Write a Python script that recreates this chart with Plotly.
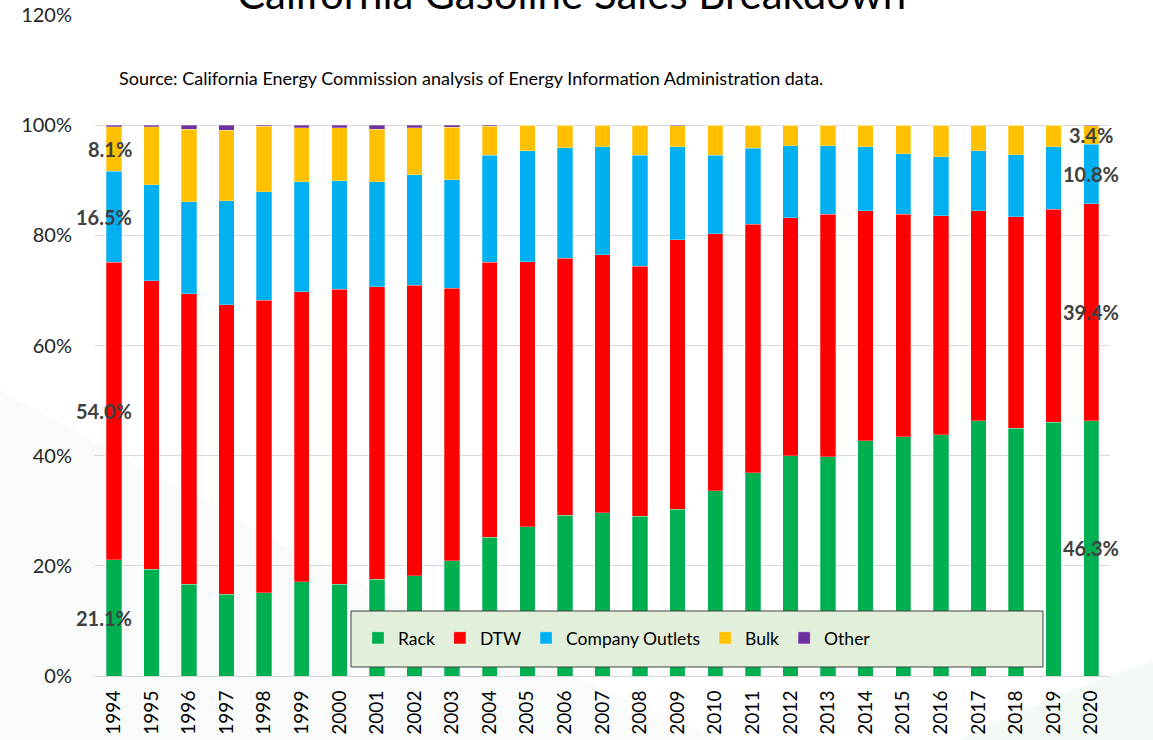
import plotly.graph_objects as go

# California gasoline sales by channel, share of total (%)
years = [str(y) for y in range(1994, 2021)]

rack = [21.1, 19.4, 16.7, 14.8, 15.1, 17.1, 16.7, 17.6, 18.2, 20.9, 25.2, 27.1, 29.2, 29.6,
        29.0, 30.3, 33.6, 36.9, 40.0, 39.8, 42.7, 43.4, 43.8, 46.3, 45.0, 46.1, 46.3]
dtw = [54.0, 52.4, 52.7, 52.6, 53.1, 52.7, 53.5, 53.1, 52.7, 49.5, 49.9, 48.1, 46.6, 46.9,
       45.4, 48.9, 46.7, 45.1, 43.2, 44.0, 41.8, 40.4, 39.8, 38.2, 38.4, 38.6, 39.4]
company_outlets = [16.5, 17.4, 16.7, 18.9, 19.7, 19.9, 19.7, 19.0, 20.1, 19.7, 19.4, 20.2, 20.1, 19.6,
                   20.1, 16.9, 14.2, 13.8, 13.1, 12.5, 11.6, 11.0, 10.7, 10.9, 11.2, 11.4, 10.8]
bulk = [8.1, 10.5, 13.2, 12.8, 11.9, 9.8, 9.6, 9.6, 8.5, 9.5, 5.3, 4.6, 4.1, 3.9,
        5.5, 3.8, 5.5, 4.2, 3.7, 3.7, 3.9, 5.2, 5.7, 4.6, 5.4, 3.9, 3.4]
other = [0.3, 0.3, 0.7, 0.9, 0.2, 0.5, 0.5, 0.7, 0.5, 0.4, 0.2, 0.0, 0.0, 0.0,
         0.0, 0.1, 0.0, 0.0, 0.0, 0.0, 0.0, 0.0, 0.0, 0.0, 0.0, 0.0, 0.1]

series = [
    ("Rack", rack, "#00B050"),
    ("DTW", dtw, "#FF0000"),
    ("Company Outlets", company_outlets, "#00B0F0"),
    ("Bulk", bulk, "#FFC000"),
    ("Other", other, "#7030A0"),
]

y_ticks = [0, 20, 40, 60, 80, 100, 120]
y_tick_text = ["0%", "20%", "40%", "60%", "80%", "100%", "120%"]

FONT = "Lato"

fig = go.Figure()
for name, vals, color in series:
    fig.add_trace(go.Bar(
        x=years, y=vals, name=name,
        marker=dict(color=color, line=dict(color="rgba(255,255,255,0.45)", width=0.6)),
    ))

# Value labels on the first and last year, centred on each segment
# (category axis: positions are given as category indices)
annotations = []
label_series = [rack, dtw, company_outlets, bulk]
for idx, xanchor, xshift in [(0, "right", 20), (len(years) - 1, "center", 0)]:
    base = 0.0
    for vals in label_series:
        v = vals[idx]
        annotations.append(dict(
            x=idx, y=base + v / 2, xref="x", yref="y",
            text=f"{v:.1f}%", showarrow=False, xanchor=xanchor, xshift=xshift,
            font=dict(family=FONT, size=20, color="#404040", weight="bold"),
        ))
        base += v

# Plot area spans x 95..1110 px and y 15..676 px
def px_x(p):
    return (p - 95) / 1015.0

def px_y(p):
    return (676 - p) / 661.0

annotations.append(dict(
    x=px_x(571), y=1, xref="paper", yref="paper", yshift=22, yanchor="middle",
    text="California Gasoline Sales Breakdown", showarrow=False,
    font=dict(family=FONT, size=42, color="#000000"),
))
annotations.append(dict(
    x=px_x(117), y=1, xref="paper", yref="paper", yshift=-63, xanchor="left", yanchor="middle",
    text="Source: California Energy Commission analysis of Energy Information Administration data.",
    showarrow=False, font=dict(family=FONT, size=18, color="#000000"),
))

shapes = [
    # faint background tint in the lower-left and lower-right corners
    dict(type="path", xref="paper", yref="paper", layer="below",
         path=f"M {px_x(0)},{px_y(390)} L {px_x(320)},{px_y(565)} L {px_x(720)},{px_y(740)} "
              f"L {px_x(0)},{px_y(740)} Z",
         fillcolor="rgba(232,241,239,0.3)", line=dict(width=0)),
    dict(type="path", xref="paper", yref="paper", layer="below",
         path=f"M {px_x(960)},{px_y(740)} Q {px_x(1060)},{px_y(690)} {px_x(1153)},{px_y(662)} "
              f"L {px_x(1153)},{px_y(740)} Z",
         fillcolor="rgba(225,242,232,0.4)", line=dict(width=0)),
    # legend panel
    dict(type="rect", xref="paper", yref="paper", layer="above",
         x0=px_x(351), x1=px_x(1043), y0=px_y(667), y1=px_y(611),
         fillcolor="#E2EFDA", line=dict(color="#404040", width=1)),
]

fig.update_layout(
    width=1153, height=740,
    barmode="stack", bargap=0.59,
    margin=dict(l=95, r=43, t=15, b=64, autoexpand=False),
    paper_bgcolor="#FFFFFF", plot_bgcolor="rgba(0,0,0,0)",
    font=dict(family=FONT, color="#000000"),
    showlegend=True,
    legend=dict(
        orientation="h", x=px_x(358), xanchor="left", y=px_y(638), yanchor="middle",
        bgcolor="rgba(0,0,0,0)", borderwidth=0, traceorder="normal",
        font=dict(family=FONT, size=17.5, color="#000000"), itemwidth=30,
    ),
    xaxis=dict(
        type="category", range=[-0.5, len(years) - 0.5], automargin=False,
        tickangle=-90, tickfont=dict(family=FONT, size=19, color="#000000"),
        showgrid=False, showline=True, linecolor="#D9D9D9", linewidth=1, ticks="",
        ticklabelstandoff=6,
    ),
    yaxis=dict(
        range=[0, 120], tickvals=y_ticks, ticktext=y_tick_text, automargin=False,
        tickfont=dict(family=FONT, size=20, color="#262626"),
        showgrid=True, gridcolor="#D9D9D9", gridwidth=1, zeroline=False,
        ticks="", ticklabelstandoff=22, showline=False,
    ),
    annotations=annotations,
    shapes=shapes,
)

fig.write_html("out.html")
